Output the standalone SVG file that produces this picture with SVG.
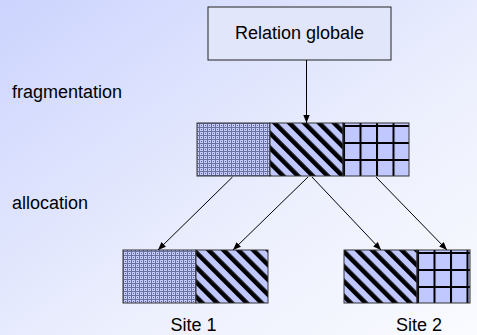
<svg xmlns="http://www.w3.org/2000/svg" width="477" height="335" viewBox="0 0 477 335">
  <defs>
    <linearGradient id="bg" x1="0" y1="0" x2="1" y2="1">
      <stop offset="0" stop-color="#ccd4fe"/>
      <stop offset="0.6" stop-color="#eceffd"/>
      <stop offset="1" stop-color="#fafbff"/>
    </linearGradient>
    <!-- fine dotted fill -->
    <pattern id="dots" width="4" height="4" patternUnits="userSpaceOnUse">
      <rect width="4" height="4" fill="#6a70a0"/>
      <rect x="0" y="0" width="3" height="3" fill="#c4ccfc"/>
      <rect x="1" y="1" width="1" height="1" fill="#5a6090"/>
    </pattern>
    <!-- thick diagonal stripes -->
    <pattern id="diag" width="10.5" height="10.5" patternUnits="userSpaceOnUse" patternTransform="rotate(-45)">
      <rect width="10.5" height="10.5" fill="#c0c8ff"/>
      <rect x="0" y="0" width="4.5" height="10.5" fill="#000"/>
    </pattern>
    <!-- square grid -->
    <pattern id="grid" width="16.5" height="17" patternUnits="userSpaceOnUse" x="343" y="125">
      <rect width="16.5" height="17" fill="#c0c8ff"/>
      <rect x="0" y="0" width="2" height="17" fill="#000"/>
      <rect x="0" y="0" width="16.5" height="2" fill="#000"/>
    </pattern>
    <pattern id="grid2" width="16.5" height="17" patternUnits="userSpaceOnUse" x="417" y="252">
      <rect width="16.5" height="17" fill="#c0c8ff"/>
      <rect x="0" y="0" width="2" height="17" fill="#000"/>
      <rect x="0" y="0" width="16.5" height="2" fill="#000"/>
    </pattern>
    <marker id="arr" viewBox="0 0 10 10" refX="10" refY="5" markerWidth="8" markerHeight="8" orient="auto" markerUnits="userSpaceOnUse">
      <path d="M0,1 L10,5 L0,9 Z" fill="#000"/>
    </marker>
    <style>
      text { font-family: "Liberation Sans", Arial, sans-serif; font-size: 18px; fill: #000; }
      .frag { stroke: #333; stroke-width: 1; }
      .link { stroke: #000; stroke-width: 1; fill: none; marker-end: url(#arr); }
    </style>
  </defs>

  <rect width="477" height="335" fill="url(#bg)"/>

  <g id="relation">
    <rect x="208" y="7" width="183" height="53" fill="#e2e6fb" stroke="#222" stroke-width="1"/>
    <text x="299.5" y="39" text-anchor="middle">Relation globale</text>
  </g>

  <g id="labels">
    <text x="12" y="98">fragmentation</text>
    <text x="12" y="209">allocation</text>
  </g>

  <g id="fragments">
    <rect class="frag" x="197" y="123" width="73" height="53" fill="url(#dots)"/>
    <rect class="frag" x="270" y="123" width="73" height="53" fill="url(#diag)"/>
    <rect class="frag" x="343" y="123" width="66" height="53" fill="url(#grid)"/>
  </g>

  <g id="site1">
    <rect class="frag" x="123" y="250" width="73" height="53" fill="url(#dots)"/>
    <rect class="frag" x="196" y="250" width="72" height="53" fill="url(#diag)"/>
    <text x="193.5" y="331" text-anchor="middle">Site 1</text>
  </g>

  <g id="site2">
    <rect class="frag" x="344" y="250" width="73" height="53" fill="url(#diag)"/>
    <rect class="frag" x="417" y="250" width="53" height="53" fill="url(#grid2)"/>
    <text x="419" y="331" text-anchor="middle">Site 2</text>
  </g>

  <g id="connectors">
    <line class="link" x1="306.5" y1="60" x2="306.5" y2="123"/>
    <line class="link" x1="232.5" y1="177" x2="158" y2="250"/>
    <line class="link" x1="308" y1="177" x2="233" y2="250"/>
    <line class="link" x1="312" y1="177" x2="381" y2="250"/>
    <line class="link" x1="376" y1="177" x2="447" y2="250"/>
  </g>
</svg>
